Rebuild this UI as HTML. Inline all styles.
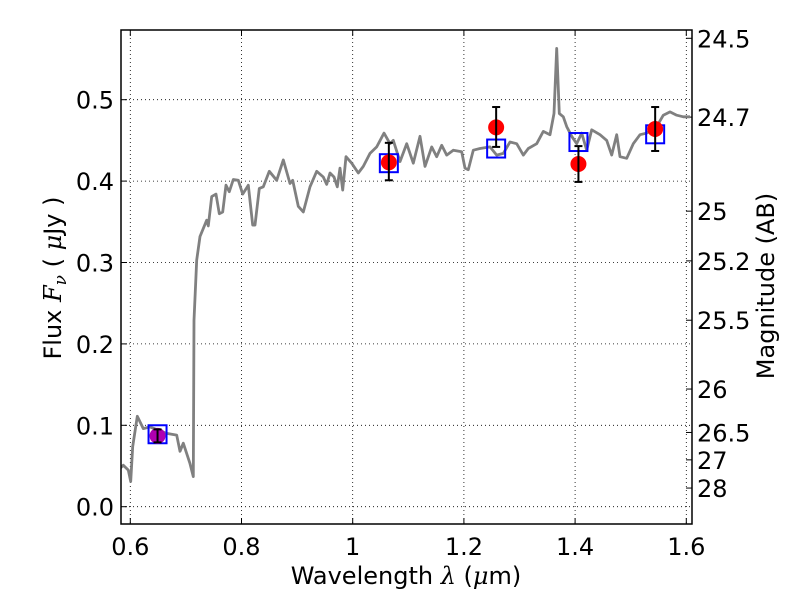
<!DOCTYPE html>
<html><head><meta charset="utf-8"><style>
body{margin:0;background:#fff;}
svg text{font-family:"DejaVu Sans","Liberation Sans",sans-serif;fill:#000;}
</style></head><body>
<svg id="chart" width="800" height="600"></svg>
<script>
const specLam=[0.5815,0.5874,0.5964,0.6007,0.6043,0.6126,0.6234,0.6354,0.6655,0.6835,0.6894,0.6953,0.7074,0.7133,0.7146,0.7194,0.7254,0.7374,0.7403,0.7464,0.7541,0.7601,0.7662,0.7721,0.7781,0.7853,0.7942,0.8022,0.8122,0.8201,0.8243,0.8320,0.8392,0.8500,0.8633,0.8752,0.8872,0.8921,0.9022,0.9112,0.9232,0.9353,0.9471,0.9532,0.9592,0.9664,0.9723,0.9772,0.9820,0.9880,0.9982,1.0101,1.0191,1.0311,1.0432,1.0563,1.0671,1.0730,1.0851,1.0971,1.1090,1.1210,1.1300,1.1421,1.1511,1.1601,1.1691,1.1809,1.1960,1.2020,1.2079,1.2169,1.2290,1.2470,1.2590,1.2709,1.2829,1.2950,1.3068,1.3158,1.3309,1.3428,1.3549,1.3621,1.3669,1.3716,1.3788,1.3849,1.3939,1.4029,1.4119,1.4209,1.4299,1.4448,1.4568,1.4658,1.4748,1.4808,1.4928,1.5047,1.5167,1.5288,1.5468,1.5586,1.5707,1.5827,1.5946,1.6067];
const specFlux=[0.047,0.051,0.045,0.031,0.074,0.111,0.096,0.098,0.090,0.088,0.068,0.078,0.053,0.037,0.229,0.303,0.332,0.352,0.345,0.381,0.384,0.360,0.362,0.395,0.387,0.402,0.401,0.384,0.395,0.346,0.346,0.391,0.393,0.412,0.401,0.426,0.397,0.401,0.369,0.362,0.393,0.412,0.405,0.396,0.410,0.405,0.393,0.416,0.389,0.430,0.422,0.410,0.418,0.434,0.442,0.459,0.446,0.450,0.424,0.446,0.422,0.455,0.418,0.442,0.430,0.444,0.432,0.438,0.436,0.416,0.414,0.438,0.440,0.442,0.432,0.434,0.448,0.446,0.432,0.440,0.446,0.461,0.457,0.483,0.563,0.483,0.479,0.467,0.455,0.446,0.459,0.438,0.463,0.457,0.450,0.432,0.457,0.430,0.428,0.446,0.457,0.459,0.467,0.481,0.485,0.481,0.479,0.479];
const obsLam=[0.649,1.065,1.258,1.406,1.544];
const obsFlux=[0.087,0.423,0.466,0.421,0.464];
const obsErrLo=[0.079,0.401,0.442,0.399,0.437];
const obsErrHi=[0.095,0.447,0.491,0.443,0.491];
const modelFlux=[0.089,0.422,0.440,0.448,0.4575];
const xTicks=[0.6,0.8,1.0,1.2,1.4,1.6];
const xTickLabels=["0.6","0.8","1","1.2","1.4","1.6"];
const yTicks=[0,0.1,0.2,0.3,0.4,0.5];
const yTickLabels=["0.0","0.1","0.2","0.3","0.4","0.5"];
const magTicks=[24.5,24.7,25,25.2,25.5,26,26.5,27,28];
const magTickLabels=["24.5","24.7","25","25.2","25.5","26","26.5","27","28"];

const L=121,R=692,T=30,B=524;
const X=v=>130.3+(v-0.6)*556;
const Y=v=>506.7-v*814;
const svg=document.getElementById('chart');
const NS='http://www.w3.org/2000/svg';
function mk(tag,attrs,parent){const e=document.createElementNS(NS,tag);for(const k in attrs)e.setAttribute(k,attrs[k]);(parent||svg).appendChild(e);return e;}

const defs=mk('defs',{});
const cp=mk('clipPath',{id:'clip'},defs);
mk('rect',{x:L,y:T,width:R-L,height:B-T},cp);

const grid=mk('g',{});


xTicks.forEach((v,i)=>{
  mk('line',{x1:X(v),x2:X(v),y1:T,y2:B,stroke:'#000','stroke-width':0.8,'stroke-dasharray':'1,3'},grid);
  mk('line',{x1:X(v),x2:X(v),y1:B,y2:B-6,stroke:'#000','stroke-width':1},grid);
  mk('line',{x1:X(v),x2:X(v),y1:T,y2:T+6,stroke:'#000','stroke-width':1},grid);
  const t=mk('text',{x:X(v),y:B+31,'text-anchor':'middle','font-size':24});
  t.textContent=xTickLabels[i];
  
  
});
yTicks.forEach((v,i)=>{
  mk('line',{x1:L,x2:R,y1:Y(v),y2:Y(v),stroke:'#000','stroke-width':0.8,'stroke-dasharray':'1,3'},grid);
  mk('line',{x1:L,x2:L+6,y1:Y(v),y2:Y(v),stroke:'#000','stroke-width':1},grid);
  const t=mk('text',{x:L-7,y:Y(v)+9,'text-anchor':'end','font-size':24});
  t.textContent=yTickLabels[i];
  
  
});
magTicks.forEach((m,i)=>{
  const f=Math.pow(10,(23.9-m)/2.5);
  const y=Y(f);
  mk('line',{x1:R,x2:R-6,y1:y,y2:y,stroke:'#000','stroke-width':1},grid);
  const t=mk('text',{x:R+5,y:y+9,'text-anchor':'start','font-size':24});
  t.textContent=magTickLabels[i];
  
  
});

const d=specLam.map((l,i)=>(i?'L':'M')+X(l).toFixed(1)+','+Y(specFlux[i]).toFixed(1)).join(' ');
const sp=mk('path',{d:d,fill:'none',stroke:'#808080','stroke-width':2.8,'clip-path':'url(#clip)','stroke-linejoin':'round'});



obsLam.forEach((l,i)=>{
  const b=mk('rect',{x:X(l)-9,y:Y(modelFlux[i])-9,width:18,height:18,fill:'none',stroke:'#0000ff','stroke-width':2});
  
  
});
obsLam.forEach((l,i)=>{
  const c=mk('circle',{cx:X(l),cy:Y(obsFlux[i]),r:8,fill:i===0?'#b000b0':'#ff0000'});
  
  
  const g=mk('g',{stroke:'#000','stroke-width':2});
  
  
  const x=X(l),y1=Y(obsErrLo[i]),y2=Y(obsErrHi[i]);
  mk('line',{x1:x,x2:x,y1:y1,y2:y2},g);
  mk('line',{x1:x-4,x2:x+4,y1:y1,y2:y1},g);
  mk('line',{x1:x-4,x2:x+4,y1:y2,y2:y2},g);
});

const fr=mk('rect',{x:L,y:T,width:R-L,height:B-T,fill:'none',stroke:'#000','stroke-width':1.5});



let t=mk('text',{x:406,y:584,'text-anchor':'middle','font-size':24});
t.innerHTML='Wavelength  <tspan font-style="italic" font-family="DejaVu Serif, serif">λ</tspan> (<tspan font-style="italic" font-family="DejaVu Serif, serif">μ</tspan>m)';


t=mk('text',{x:0,y:0,'text-anchor':'middle','font-size':24,transform:'translate(61,278) rotate(-90)'});
t.innerHTML='Flux  <tspan font-style="italic" font-family="DejaVu Serif, serif">F</tspan><tspan font-style="italic" font-family="DejaVu Serif, serif" font-size="17" dy="5">ν</tspan><tspan dy="-5">  (  </tspan><tspan font-style="italic" font-family="DejaVu Serif, serif">μ</tspan>Jy )';


t=mk('text',{x:0,y:0,'text-anchor':'middle','font-size':24,transform:'translate(774,286) rotate(-90)'});
t.textContent='Magnitude (AB)';


</script>
</body></html>
